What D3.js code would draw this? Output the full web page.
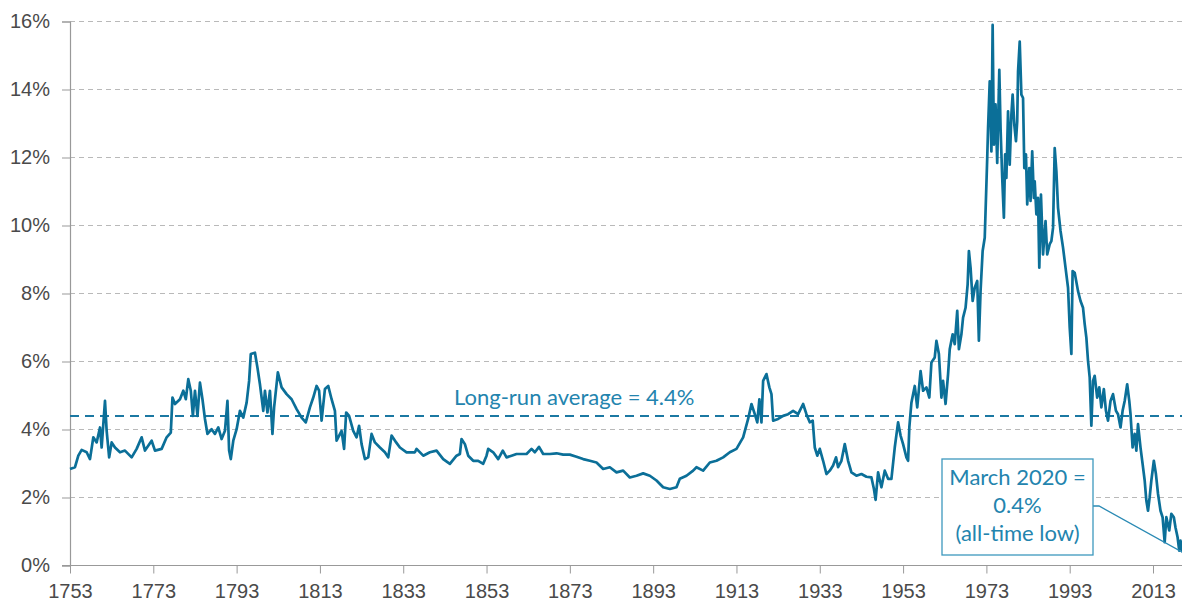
<!DOCTYPE html>
<html><head><meta charset="utf-8">
<script src="https://cdn.jsdelivr.net/npm/d3@7"></script>
<style>
html,body{margin:0;padding:0;background:#fff;}
svg{display:block;}
</style></head>
<body>
<svg id="chart" width="1182" height="605"></svg>
<script>
const years = [1753,1754.2,1755,1755.8,1757,1757.8,1758.6,1759.4,1760.2,1760.6,1761.4,1761.8,1762.4,1763,1763.8,1765,1766.2,1767.8,1769,1770.2,1771,1772.6,1773.4,1775,1776.2,1777.2,1777.6,1778.2,1779.4,1780.2,1780.8,1781.4,1782,1782.5,1783,1783.6,1784.2,1784.8,1785.4,1786,1787,1787.8,1788.6,1789.4,1790.2,1790.8,1791.2,1791.6,1792.2,1793,1793.8,1794.6,1795.4,1796,1796.4,1797.4,1798,1798.6,1799.4,1799.8,1800.4,1801,1801.6,1802,1802.9,1803.8,1805,1806.2,1807.4,1808.6,1809.6,1810.6,1811.4,1812.2,1812.8,1813.4,1814.2,1815,1815.8,1816.6,
1817,1818.2,1818.8,1819.3,1820,1821,1821.8,1822.4,1823,1823.8,1824.6,1825.4,1826.2,1827.4,1828.6,1829.4,1830.2,1831.3,1832.2,1833.8,1835.8,1836.2,1837.8,1839.4,1841,1842.6,1844.2,1845.8,1846.6,1847,1847.8,1848.6,1849.8,1851,1852.2,1853,1853.4,1854.6,1855.8,1856.9,1857.8,1859,1860.2,1861.4,1862.6,1863.8,1864.6,1865.6,1866.6,1868.2,1869.8,1871.4,1873,1874.6,1876.2,1877.8,1879.4,1881,1882.6,1884.2,1885.8,1887.4,1889,1890.6,1892.2,1893.8,1895.4,1897,1898.6,1899.4,1901,1902.6,1903.4,1905,1906.6,1908.2,1909.8,1911.4,
1913,1914.6,1915.8,1916.6,1917.4,1918,1918.5,1919,1919.4,1920.2,1920.9,1921.4,1921.8,1923,1924.2,1925.4,1926.6,1927.8,1929,1929.8,1930.6,1931.3,1931.8,1932.4,1933,1933.8,1934.6,1935.4,1936.2,1936.9,1937.4,1938.2,1939,1939.8,1940.6,1941.8,1943,1944.2,1945.4,1946,1946.4,1947,1947.8,1948.6,1949.4,1950.2,1951,1951.8,1952.4,1953,1953.8,1954.2,
1954.5,1955,1955.8,1956.4,1957.2,1957.8,1958.6,1959.3,1959.8,1960.6,1961,1961.6,1962.2,1962.6,1963.2,1963.8,1964.2,1964.9,1965.4,1966,1966.4,1967,1967.4,1968,1968.5,1968.8,1969.2,1969.7,1970.2,1970.8,1971.2,1971.6,1972.1,1972.6,1972.9,1973.2,1973.4,1973.8,1974.2,1974.5,1974.8,1975.2,1975.6,1976.1,1976.4,1976.8,1977.2,1977.5,1977.8,1978.2,1978.6,1979,1979.3,1979.7,1980.1,1980.4,1980.6,1981,1981.4,1981.8,1982.1,1982.5,1982.8,1983.3,1983.6,1984,1984.4,1984.6,1985,1985.4,1985.7,
1986.1,1986.6,1987.2,1987.6,1988.2,1988.6,1989,1989.4,1989.8,1990.2,1990.8,1991.4,1992.1,1992.6,1993,1993.4,1993.7,1994.2,1995,1995.6,1996.2,1996.6,1997,1997.4,1997.8,1998.2,1998.6,1999,1999.6,2000.1,2000.6,2001.2,2001.7,2002.2,2002.8,2003.4,2004.1,2004.6,2005.2,2005.7,2006.2,2006.8,2007.3,2007.6,2008.1,2008.6,2009,2009.4,2010,2010.5,2011,2011.4,2011.8,2012.2,2012.6,2013.2,2013.7,2014.2,2014.8,2015.3,2015.8,2016.2,2016.9,2017.4,2018,2018.4,2018.9,2019.3,2019.6,2020.1];
const yields = [2.84,2.89,3.23,3.40,3.33,3.13,3.77,3.62,4.06,3.47,4.84,3.96,3.18,3.62,3.47,3.33,3.38,3.18,3.43,3.77,3.38,3.67,3.38,3.43,3.77,3.91,4.94,4.75,4.89,5.14,4.89,5.48,5.14,4.40,5.14,4.40,5.38,4.89,4.31,3.87,4.01,3.87,4.06,3.72,3.96,4.84,3.38,3.13,3.67,4.01,4.55,4.35,4.79,5.43,6.22,6.26,5.82,5.33,4.55,5.14,4.50,5.14,3.87,4.65,5.68,5.24,5.04,4.89,4.60,4.35,4.21,4.65,4.94,5.28,5.14,4.26,5.19,5.28,4.89,4.55,
3.67,3.96,3.43,4.50,4.40,3.96,3.77,4.11,3.57,3.13,3.18,3.87,3.62,3.47,3.33,3.18,3.82,3.62,3.47,3.33,3.33,3.43,3.23,3.33,3.38,3.13,2.99,3.23,3.28,3.72,3.57,3.23,3.08,3.08,2.99,3.23,3.43,3.33,3.13,3.38,3.18,3.23,3.28,3.28,3.28,3.43,3.33,3.49,3.28,3.28,3.30,3.26,3.26,3.20,3.13,3.08,3.03,2.84,2.89,2.74,2.79,2.59,2.64,2.71,2.64,2.50,2.30,2.25,2.30,2.55,2.64,2.79,2.89,2.79,3.03,3.08,3.18,3.33,
3.43,3.77,4.31,4.75,4.45,4.21,4.89,4.21,5.43,5.63,5.24,5.04,4.26,4.31,4.40,4.45,4.55,4.45,4.75,4.45,4.21,4.26,3.47,3.23,3.43,3.08,2.69,2.79,2.94,3.18,2.89,3.08,3.57,3.08,2.74,2.64,2.69,2.61,2.59,2.25,1.93,2.74,2.30,2.79,2.55,2.55,3.47,4.21,3.82,3.57,3.18,3.08,
4.06,4.79,5.28,4.65,5.72,5.14,5.24,4.94,5.97,6.12,6.61,6.22,4.94,5.43,4.75,5.63,6.36,6.80,6.51,7.49,6.36,6.80,7.29,7.58,8.27,9.25,8.76,7.78,8.17,8.37,6.61,8.07,9.25,9.64,10.81,11.99,12.87,14.24,12.18,15.90,12.38,13.56,11.84,14.58,12.87,11.40,10.23,12.09,11.40,13.36,11.79,13.26,13.85,12.97,12.48,13.07,14.53,15.41,13.85,13.75,11.69,12.09,10.62,11.69,10.72,12.18,10.81,11.30,10.33,10.81,8.76,
10.91,9.15,10.13,9.15,9.45,9.54,9.93,12.28,11.60,10.52,9.84,9.35,8.66,8.17,7.00,6.22,8.66,8.61,8.07,7.78,7.58,7.10,6.70,6.02,5.53,4.11,5.43,5.58,4.94,5.24,4.65,5.19,4.55,4.26,4.84,5.04,4.55,4.45,4.06,4.55,4.84,5.33,4.84,4.45,3.47,3.87,3.38,4.16,3.47,2.99,2.50,1.91,1.61,2.01,2.50,3.08,2.69,2.11,1.61,1.42,0.69,1.42,1.03,1.52,1.42,1.12,0.83,0.44,0.73,0.39];
const yTicks = [0,2,4,6,8,10,12,14,16];
const xTicks = [1753,1773,1793,1813,1833,1853,1873,1893,1913,1933,1953,1973,1993,2013];
const longRunAverage = 4.4;
const averageLabel = "Long-run average = 4.4%";
const calloutLines = ["March 2020 =", "0.4%", "(all-time low)"];
const lowYear = 2020.1, lowValue = 0.39;

const svg = d3.select("#chart");
const x = d3.scaleLinear().domain([1753, 2020.2]).range([70, 1183]);
const y = d3.scaleLinear().domain([0, 16]).range([565.5, 21.5]);
const tickFont = "Liberation Sans, Arial, sans-serif";
const lineColor = "#0b6f98";
const textColor = "#2384ae";
const labelFont = "Lato, 'Open Sans', sans-serif";

// gridlines
const grid = svg.append("g");
grid.selectAll("line").data(yTicks.filter(d => d > 0)).join("line")
  .attr("x1", 70).attr("x2", 1182)
  .attr("y1", d => y(d)).attr("y2", d => y(d))
  .attr("stroke", "#b9b9b9").attr("stroke-width", 1).attr("stroke-dasharray", "5,4");

// y axis
const yAxis = svg.append("g").attr("transform", "translate(70,0)")
  .call(d3.axisLeft(y).tickValues(yTicks).tickFormat(d => d + "%").tickSize(8).tickPadding(12));
yAxis.select(".domain").attr("stroke", "#999").attr("stroke-width", 1.2);
yAxis.selectAll(".tick line").attr("stroke", "#999");
yAxis.selectAll(".tick text").attr("font-family", tickFont).attr("font-size", 20).attr("fill", "#4a4a4a");

// x axis
const xAxis = svg.append("g").attr("transform", "translate(0,565.5)")
  .call(d3.axisBottom(x).tickValues(xTicks).tickFormat(d3.format("d")).tickSize(8).tickPadding(10).tickSizeOuter(0));
xAxis.select(".domain").attr("stroke", "#999").attr("stroke-width", 1.2).attr("d", "M62,0H1182");
xAxis.selectAll(".tick line").attr("stroke", "#999");
xAxis.selectAll(".tick text").attr("font-family", tickFont).attr("font-size", 20).attr("fill", "#4a4a4a");

// average line
svg.append("line")
  .attr("x1", 70).attr("x2", 1182)
  .attr("y1", y(longRunAverage)).attr("y2", y(longRunAverage))
  .attr("stroke", "#1b78a2").attr("stroke-width", 2).attr("stroke-dasharray", "9,6");

svg.append("text")
  .attr("x", 454).attr("y", 405)
  .attr("font-family", labelFont).attr("font-weight", 400)
  .attr("font-size", 22).attr("fill", textColor)
  .text(averageLabel);

// series
const data = years.map((yr, i) => ({yr, v: yields[i]}));
svg.append("path").datum(data)
  .attr("fill", "none").attr("stroke", lineColor).attr("stroke-width", 2.7)
  .attr("stroke-linejoin", "round")
  .attr("d", d3.line().x(d => x(d.yr)).y(d => y(d.v)));

// callout
const box = {x0: 942, y0: 459, x1: 1093, y1: 555};
svg.append("path")
  .attr("d", `M${box.x1},506H1099L${x(lowYear)},${y(lowValue)}`)
  .attr("fill", "none").attr("stroke", "#2a8ab4").attr("stroke-width", 1.3);
svg.append("rect")
  .attr("x", box.x0).attr("y", box.y0).attr("width", box.x1 - box.x0).attr("height", box.y1 - box.y0)
  .attr("fill", "#fff").attr("stroke", "#3d98bd").attr("stroke-width", 1.3);
svg.append("text")
  .attr("font-family", labelFont).attr("font-weight", 400)
  .attr("font-size", 22).attr("fill", textColor).attr("text-anchor", "middle")
  .selectAll("tspan").data(calloutLines).join("tspan")
  .attr("x", (box.x0 + box.x1) / 2).attr("y", (d, i) => 485 + i * 28)
  .text(d => d);
</script>
</body></html>
